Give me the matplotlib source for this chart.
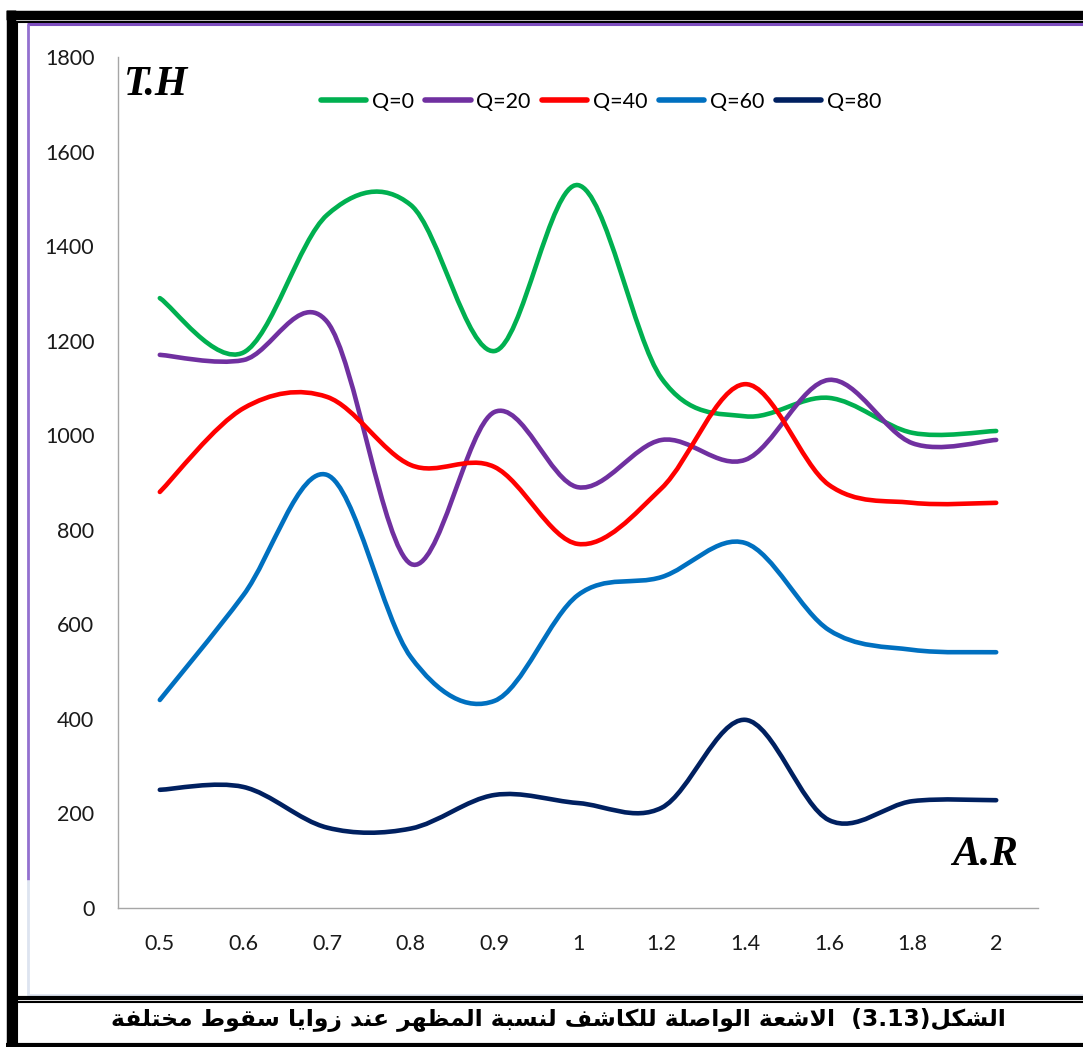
import numpy as np
import matplotlib.pyplot as plt
from matplotlib.path import Path
from matplotlib.patches import PathPatch
from matplotlib.lines import Line2D

# aspect ratio categories (x axis) and T.H values per angle Q
ar_labels = ['0.5', '0.6', '0.7', '0.8', '0.9', '1', '1.2', '1.4', '1.6', '1.8', '2']
q0 = [1290, 1175, 1466, 1487, 1178, 1529, 1120, 1040, 1079, 1005, 1009]
q20 = [1170, 1159, 1240, 728, 1049, 890, 990, 948, 1117, 983, 990]
q40 = [880, 1057, 1081, 937, 933, 770, 888, 1108, 895, 857, 857]
q60 = [440, 662, 916, 531, 438, 662, 700, 772, 588, 546, 541]
q80 = [250, 256, 170, 168, 239, 222, 212, 398, 186, 226, 228]
series_names = ['Q=0', 'Q=20', 'Q=40', 'Q=60', 'Q=80']
series_vals = [q0, q20, q40, q60, q80]
colors = ['#00B050', '#7030A0', '#FF0000', '#0070C0', '#002060']

caption_words = ['الاشعة', 'الواصلة', 'للكاشف', 'لنسبة', 'المظهر', 'عند', 'زوايا', 'سقوط', 'مختلفة']
caption_head = 'الشكل'
caption_num = '(3.13)'

W, H = 1083, 1047


# minimal arabic shaping (matplotlib has no joining / bidi)
forms = {
    'ا': (0xFE8D, 0xFE8E, None, None), 'ب': (0xFE8F, 0xFE90, 0xFE91, 0xFE92),
    'ة': (0xFE93, 0xFE94, None, None), 'ت': (0xFE95, 0xFE96, 0xFE97, 0xFE98),
    'خ': (0xFEA5, 0xFEA6, 0xFEA7, 0xFEA8), 'د': (0xFEA9, 0xFEAA, None, None),
    'ر': (0xFEAD, 0xFEAE, None, None), 'ز': (0xFEAF, 0xFEB0, None, None),
    'س': (0xFEB1, 0xFEB2, 0xFEB3, 0xFEB4), 'ش': (0xFEB5, 0xFEB6, 0xFEB7, 0xFEB8),
    'ص': (0xFEB9, 0xFEBA, 0xFEBB, 0xFEBC), 'ط': (0xFEC1, 0xFEC2, 0xFEC3, 0xFEC4),
    'ظ': (0xFEC5, 0xFEC6, 0xFEC7, 0xFEC8), 'ع': (0xFEC9, 0xFECA, 0xFECB, 0xFECC),
    'ف': (0xFED1, 0xFED2, 0xFED3, 0xFED4), 'ق': (0xFED5, 0xFED6, 0xFED7, 0xFED8),
    'ك': (0xFED9, 0xFEDA, 0xFEDB, 0xFEDC),
    'ل': (0xFEDD, 0xFEDE, 0xFEDF, 0xFEE0), 'م': (0xFEE1, 0xFEE2, 0xFEE3, 0xFEE4),
    'ن': (0xFEE5, 0xFEE6, 0xFEE7, 0xFEE8), 'ه': (0xFEE9, 0xFEEA, 0xFEEB, 0xFEEC),
    'و': (0xFEED, 0xFEEE, None, None), 'ي': (0xFEF1, 0xFEF2, 0xFEF3, 0xFEF4),
    'لا': (0xFEFB, 0xFEFC, None, None),
}


def shape(word):
    chars = []
    i = 0
    while i < len(word):
        if word[i] == 'ل' and i + 1 < len(word) and word[i + 1] == 'ا':
            chars.append('لا')
            i += 2
        else:
            chars.append(word[i])
            i += 1
    out = []
    for i, c in enumerate(chars):
        f = forms[c]
        prev_joins = i > 0 and forms[chars[i - 1]][2] is not None
        next_joins = i < len(chars) - 1 and f[2] is not None
        if prev_joins and next_joins:
            code = f[3]
        elif prev_joins:
            code = f[1]
        elif next_joins:
            code = f[2]
        else:
            code = f[0]
        out.append(chr(code))
    return ''.join(reversed(out))


def smooth_path(vals):
    # excel-like smoothed line: cubic bezier through every point
    pts = np.column_stack([np.arange(len(vals)), vals]).astype(float)
    n = len(pts)
    verts = [pts[0]]
    codes = [Path.MOVETO]
    for i in range(n - 1):
        p0 = pts[max(i - 1, 0)]
        p1 = pts[i]
        p2 = pts[i + 1]
        p3 = pts[min(i + 2, n - 1)]
        verts += [p1 + (p2 - p0) / 6, p2 - (p3 - p1) / 6, p2]
        codes += [Path.CURVE4] * 3
    return Path(verts, codes)


fig = plt.figure(figsize=(W / 100, H / 100), dpi=100)
ax = fig.add_axes([118 / W, 1 - 908 / H, 920 / W, 851 / H])

for vals, c in zip(series_vals, colors):
    ax.add_patch(PathPatch(smooth_path(vals), fill=False, ec=c, lw=3.3,
                           capstyle='round', joinstyle='round'))

ax.set_xlim(-0.5, len(ar_labels) - 0.5)
ax.set_ylim(0, 1800)
ax.set_yticks(range(0, 1801, 200))
ax.set_xticks(range(len(ar_labels)))
ax.set_xticklabels(ar_labels)
for s in ['top', 'right']:
    ax.spines[s].set_visible(False)
for s in ['left', 'bottom']:
    ax.spines[s].set_color('#a6a6a6')
    ax.spines[s].set_linewidth(1.0)
ax.tick_params(length=0, labelsize=15.5, labelcolor='#1a1a1a')
ax.tick_params(axis='y', pad=17)
ax.tick_params(axis='x', pad=19)
for lab in ax.get_xticklabels() + ax.get_yticklabels():
    lab.set_family('Lato')

handles = [Line2D([], [], color=c, lw=4, solid_capstyle='round') for c in colors]
fig.legend(handles, series_names, loc='center', bbox_to_anchor=(601 / W, 1 - 102 / H),
           ncol=5, frameon=False, handlelength=2.1, handletextpad=0.25,
           columnspacing=0.55, prop={'family': 'Lato', 'size': 15.5})

fig.text(124 / W, 1 - 85 / H, 'T.H', family='Liberation Serif', weight='bold',
         style='italic', fontsize=30, va='center', ha='left')
fig.text(1018 / W, 1 - 855 / H, 'A.R', family='Liberation Serif', weight='bold',
         style='italic', fontsize=30, va='center', ha='right')


# frame lines, pixel coordinates from top-left
def hline(y, x0, x1, lw, c):
    fig.add_artist(Line2D([x0 / W, x1 / W], [1 - y / H, 1 - y / H], lw=lw, color=c,
                          solid_capstyle='butt'))


def vline(x, y0, y1, lw, c):
    fig.add_artist(Line2D([x / W, x / W], [1 - y0 / H, 1 - y1 / H], lw=lw, color=c,
                          solid_capstyle='butt'))


hline(14.5, 6, W, 6.8, 'black')
hline(21.5, 16, W, 1.5, 'black')
hline(24, 27, W, 2.2, '#7e4fbf')
vline(10.5, 10, 1047, 6.8, 'black')
vline(16.5, 21, 1047, 1.5, 'black')
vline(28, 24, 880, 2.0, '#9370cf')
vline(28, 880, 995, 2.0, '#dde4f0')
hline(994.5, 27, W, 2.0, '#dde4f0')
hline(998, 16, W, 3.0, 'black')
hline(1001.5, 16, W, 1.5, 'black')
hline(1044.5, 6, W, 3.0, 'black')

caption = ' '.join(shape(w) for w in reversed(caption_words)) + '  ' + caption_num + shape(caption_head)
fig.text(558 / W, 1 - 1020 / H, caption, family='DejaVu Sans', weight='bold', fontsize=16.9,
         ha='center', va='center', color='black')

fig.savefig('out.png', dpi=100)
